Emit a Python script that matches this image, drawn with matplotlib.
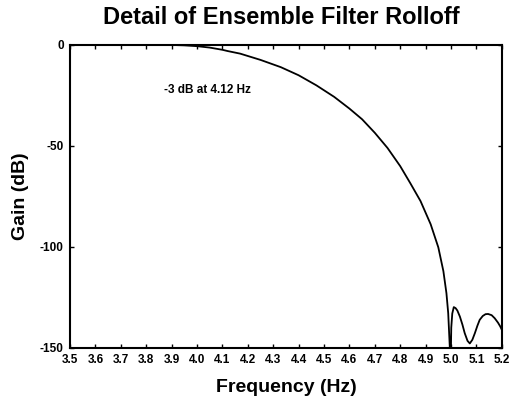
import numpy as np
import matplotlib.pyplot as plt

plt.rcParams['font.family'] = ['Liberation Sans', 'DejaVu Sans']

# gain curve (Hz, dB)
freq = [3.5, 3.9, 3.95, 4.0, 4.05, 4.1, 4.12, 4.17, 4.25, 4.33, 4.4, 4.47,
        4.54, 4.6, 4.65, 4.7, 4.75, 4.8, 4.84, 4.88, 4.92, 4.95, 4.97, 4.982,
        4.989, 4.995, 4.998, 5.001, 5.005, 5.011, 5.018, 5.025, 5.035, 5.045,
        5.054, 5.065, 5.074, 5.084, 5.094, 5.104, 5.113, 5.125, 5.136, 5.146,
        5.16, 5.172, 5.185, 5.194, 5.2]
gain = [0, 0, -0.2, -0.6, -1.3, -2.4, -3.0, -4.3, -7.4, -11, -15, -20,
        -25.7, -31.5, -36.8, -43.5, -51, -60, -68.5, -77.3, -88.8, -100.2,
        -112, -122.9, -132.8, -149, -165, -140, -133, -129.8, -130.3, -131.5,
        -134.5, -138.5, -142.7, -146.5, -147.8, -146, -142.7, -139, -136.1,
        -134.2, -133.3, -133.2, -133.8, -135.3, -137.5, -139.4, -141]

xticks = [round(3.5 + 0.1 * i, 1) for i in range(18)]
yticks = [0, -50, -100, -150]

fig = plt.figure(figsize=(5.11, 4.05), dpi=100)
ax = fig.add_axes([0.137, 0.141, 0.845, 0.748])
ax.plot(freq, gain, color='black', lw=1.3)

ax.set_xlim(3.5, 5.2)
ax.set_ylim(-150, 0)
ax.set_xticks(xticks)
ax.set_xticklabels([f'{t:.1f}' for t in xticks], fontsize=8.5, fontweight='bold')
ax.set_yticks(yticks)
ax.set_yticklabels([str(t) for t in yticks], fontsize=8.5, fontweight='bold')
ax.tick_params(direction='in', top=True, right=True, length=3, width=1, pad=4.5)
for s in ax.spines.values():
    s.set_linewidth(1.5)

ax.text(3.87, -24, '-3 dB at 4.12 Hz', fontsize=8.5, fontweight='bold')

ax.set_xlabel('Frequency (Hz)', fontsize=14, fontweight='bold', labelpad=9)
ax.set_ylabel('Gain (dB)', fontsize=14, fontweight='bold', labelpad=8)
fig.suptitle('Detail of Ensemble Filter Rolloff', fontsize=17, fontweight='bold',
             x=0.55, y=0.985)

fig.savefig('out.png', dpi=100)
